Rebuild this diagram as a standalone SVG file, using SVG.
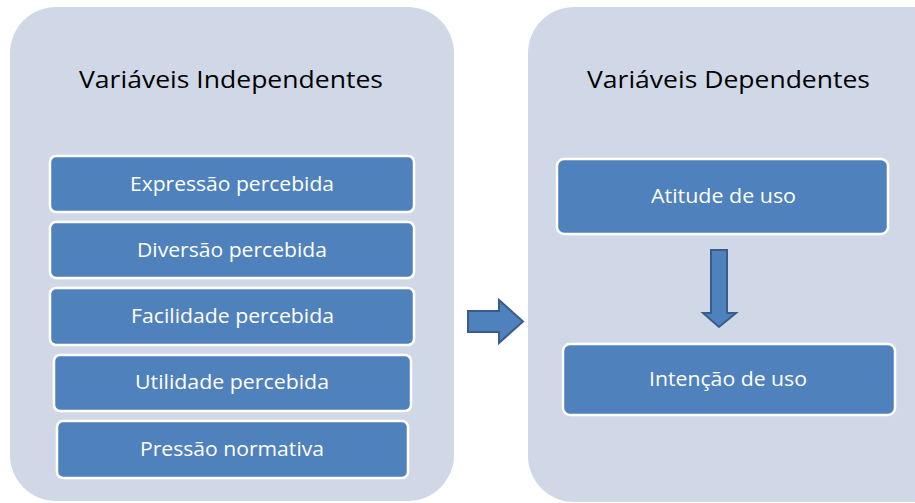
<svg xmlns="http://www.w3.org/2000/svg" width="915" height="503" viewBox="0 0 915 503">
<style>
.panel{fill:#D0D8E8}
.box{fill:#4F81BD;stroke:#FFFFFF;stroke-width:2.5}
.arrow{fill:#4F81BD;stroke:#385D8A;stroke-width:2;stroke-linejoin:miter}
.title{font-family:"Open Sans","Noto Sans",sans-serif;font-size:24.5px;fill:#000000;text-anchor:middle}
.lbl{font-family:"Open Sans","Noto Sans",sans-serif;font-size:20px;fill:#FFFFFF;text-anchor:middle}
</style>
<rect width="915" height="503" fill="#FFFFFF"/>
<g id="panel-independentes">
<rect class="panel" x="10" y="7" width="444" height="494" rx="46" ry="46"/>
<text class="title" x="231" y="88" textLength="304" lengthAdjust="spacingAndGlyphs">Variáveis Independentes</text>
</g>
<g id="panel-dependentes">
<rect class="panel" x="528" y="7" width="430" height="495" rx="46" ry="46"/>
<text class="title" x="728.5" y="88" textLength="283" lengthAdjust="spacingAndGlyphs">Variáveis Dependentes</text>
</g>
<g id="node-expressao">
<rect class="box" x="50" y="156" width="364" height="56" rx="6"/>
<text class="lbl" x="232" y="191" textLength="204" lengthAdjust="spacingAndGlyphs">Expressão percebida</text>
</g>
<g id="node-diversao">
<rect class="box" x="50" y="222" width="364" height="56" rx="6"/>
<text class="lbl" x="232" y="257" textLength="190" lengthAdjust="spacingAndGlyphs">Diversão percebida</text>
</g>
<g id="node-facilidade">
<rect class="box" x="50" y="288" width="364" height="57" rx="6"/>
<text class="lbl" x="232.5" y="323" textLength="203" lengthAdjust="spacingAndGlyphs">Facilidade percebida</text>
</g>
<g id="node-utilidade">
<rect class="box" x="54" y="355" width="357" height="56" rx="6"/>
<text class="lbl" x="232" y="389" textLength="194" lengthAdjust="spacingAndGlyphs">Utilidade percebida</text>
</g>
<g id="node-pressao">
<rect class="box" x="57" y="421" width="351" height="57" rx="6"/>
<text class="lbl" x="232" y="456" textLength="184" lengthAdjust="spacingAndGlyphs">Pressão normativa</text>
</g>
<g id="node-atitude">
<rect class="box" x="557" y="159" width="331" height="75" rx="7"/>
<text class="lbl" x="723.5" y="203" textLength="145" lengthAdjust="spacingAndGlyphs">Atitude de uso</text>
</g>
<g id="node-intencao">
<rect class="box" x="563" y="344" width="332" height="71" rx="7"/>
<text class="lbl" x="728" y="386" textLength="158" lengthAdjust="spacingAndGlyphs">Intenção de uso</text>
</g>
<g id="connectors">
<polygon class="arrow" points="468,311 499,311 499,300 523,321.5 499,343 499,332 468,332"/>
<polygon class="arrow" points="711,250 727,250 727,313 736,313 719,327 703,313 711,313"/>
</g>
</svg>
